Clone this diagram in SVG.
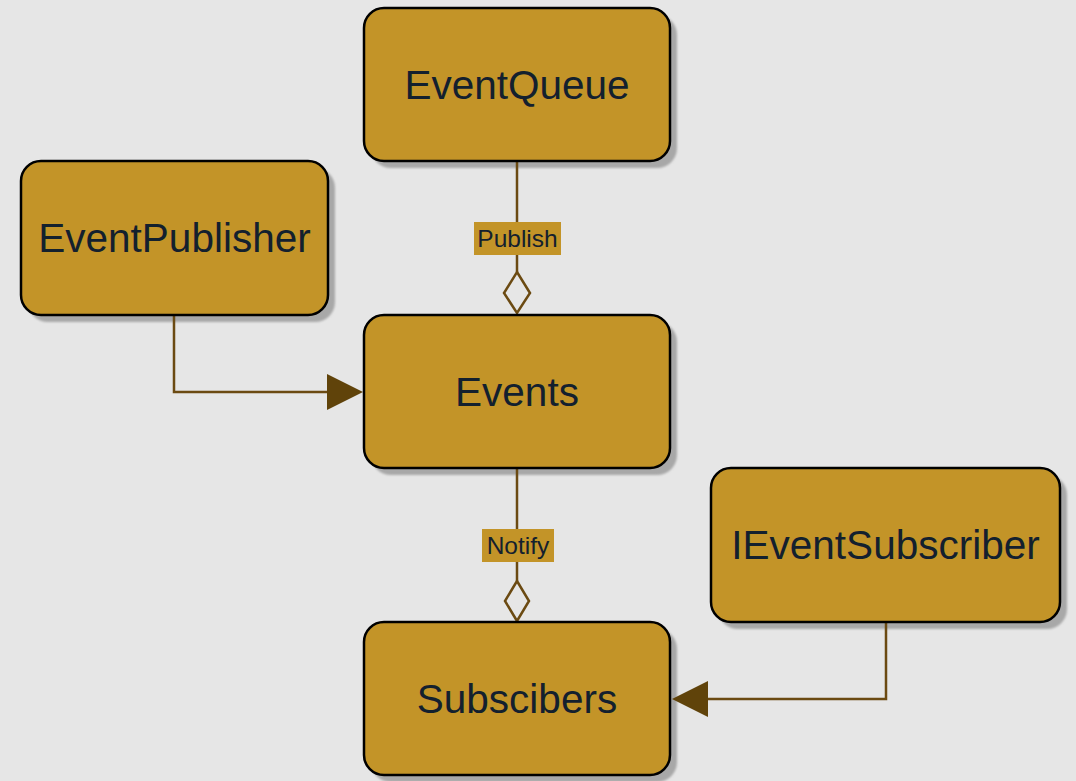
<svg xmlns="http://www.w3.org/2000/svg" width="1076" height="781" viewBox="0 0 1076 781">
  <style>
    .box { fill: #c39428; stroke: #000; stroke-width: 2.5; }
    .shadow { fill: #a8a8a8; filter: url(#soft); }
    .title { font-family: "Liberation Sans", Arial, sans-serif; font-size: 40.5px; fill: #13202e; text-anchor: middle; }
    .edge { fill: none; stroke: #6b4a12; stroke-width: 2.5; }
    .lbl-bg { fill: #c39428; }
    .lbl { font-family: "Liberation Sans", Arial, sans-serif; font-size: 24.5px; fill: #13202e; text-anchor: middle; }
    .diamond { fill: #e6e6e6; stroke: #6b4a12; stroke-width: 2.5; }
    .head { fill: #60430a; }
  </style>
  <defs>
    <filter id="soft" x="-10%" y="-10%" width="120%" height="120%">
      <feGaussianBlur stdDeviation="1"/>
    </filter>
  </defs>

  <rect width="1076" height="781" fill="#e6e6e6"/>

  <!-- drop shadows sit under the connectors -->
  <g id="shadows">
    <rect class="shadow" x="371" y="15" width="306" height="153" rx="20"/>
    <rect class="shadow" x="28" y="168" width="307" height="154" rx="20"/>
    <rect class="shadow" x="371" y="322" width="306" height="153" rx="20"/>
    <rect class="shadow" x="718" y="475" width="349" height="154" rx="20"/>
    <rect class="shadow" x="371" y="629" width="306" height="153" rx="20"/>
  </g>

  <g id="connectors">
    <!-- EventQueue aggregates Events -->
    <line class="edge" x1="517" y1="161" x2="517" y2="272"/>
    <rect class="lbl-bg" x="474" y="222" width="87" height="33"/>
    <text class="lbl" x="517.5" y="247">Publish</text>
    <polygon class="diamond" points="517,272 530,293 517,313 504,293"/>

    <!-- Events aggregates Subscibers -->
    <line class="edge" x1="517" y1="468" x2="517" y2="581"/>
    <rect class="lbl-bg" x="482" y="529" width="72" height="33"/>
    <text class="lbl" x="518" y="554">Notify</text>
    <polygon class="diamond" points="517,581 529,601 517,621 505,601"/>

    <!-- EventPublisher to Events -->
    <polyline class="edge" points="174,315 174,392 330,392"/>
    <polygon class="head" points="363,392 327,374 327,410"/>

    <!-- IEventSubscriber to Subscibers -->
    <polyline class="edge" points="886,622 886,699 706,699"/>
    <polygon class="head" points="672,699 708,681 708,717"/>
  </g>

  <g id="node-eventqueue">
    <rect class="box" x="364" y="8" width="306" height="153" rx="20"/>
    <text class="title" x="517" y="99">EventQueue</text>
  </g>

  <g id="node-eventpublisher">
    <rect class="box" x="21" y="161" width="307" height="154" rx="20"/>
    <text class="title" x="174.5" y="252">EventPublisher</text>
  </g>

  <g id="node-events">
    <rect class="box" x="364" y="315" width="306" height="153" rx="20"/>
    <text class="title" x="517" y="406">Events</text>
  </g>

  <g id="node-ieventsubscriber">
    <rect class="box" x="711" y="468" width="349" height="154" rx="20"/>
    <text class="title" x="885.5" y="559">IEventSubscriber</text>
  </g>

  <g id="node-subscibers">
    <rect class="box" x="364" y="622" width="306" height="153" rx="20"/>
    <text class="title" x="517" y="713">Subscibers</text>
  </g>
</svg>
